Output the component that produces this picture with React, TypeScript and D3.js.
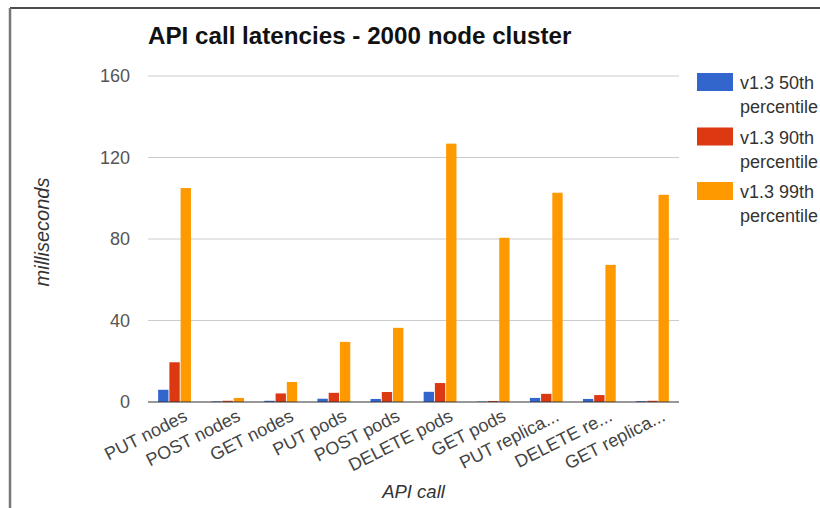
import * as d3 from "d3";

// API call latency percentiles, 2000 node cluster (ms)
const categories = [
  "PUT nodes",
  "POST nodes",
  "GET nodes",
  "PUT pods",
  "POST pods",
  "DELETE pods",
  "GET pods",
  "PUT replica...",
  "DELETE re...",
  "GET replica...",
];
const p50 = [6, 0.3, 0.6, 1.6, 1.5, 5, 0.2, 2, 1.5, 0.4];
const p90 = [19.5, 0.6, 4.2, 4.5, 4.9, 9.3, 0.5, 4, 3.4, 0.6];
const p99 = [105, 2, 9.8, 29.5, 36.4, 126.8, 80.6, 102.7, 67.3, 101.7];
const seriesNames = [
  "v1.3 50th percentile",
  "v1.3 90th percentile",
  "v1.3 99th percentile",
];
const yTicks = [0, 40, 80, 120, 160];

const colors = ["#3366cc", "#dc3912", "#ff9900"];
const font = "Arial, 'Liberation Sans', sans-serif";

const W = 820;
const H = 508;
const left = 148;
const right = 679;
const top = 76;
const bottom = 402;

export default function App() {
  const series = [p50, p90, p99];

  const x = d3.scaleBand<string>().domain(categories).range([left, right]);
  const groupW = x.bandwidth() * 0.618;
  const xInner = d3
    .scaleBand<number>()
    .domain([0, 1, 2])
    .range([0, groupW])
    .paddingInner(0.08);
  const y = d3.scaleLinear().domain([0, 160]).range([bottom, top]);

  return (
    <svg
      width={W}
      height={H}
      style={{ position: "absolute", left: 0, top: 0, background: "#fff" }}
      fontFamily={font}
    >
      <rect x={0} y={0} width={W} height={H} fill="#fff" />
      {/* frame of the screenshot */}
      <line x1={10} x2={W} y1={8} y2={8} stroke="#111" strokeWidth={1.5} />
      <line x1={10} x2={10} y1={8} y2={H} stroke="#777" strokeWidth={2.5} />

      <text x={148} y={44} fontSize={24.2} fontWeight="bold" fill="#111">
        API call latencies - 2000 node cluster
      </text>

      {/* gridlines + y labels */}
      {yTicks.map((t) => (
        <g key={t}>
          {t > 0 && (
            <line
              x1={left}
              x2={right}
              y1={y(t)}
              y2={y(t)}
              stroke="#cccccc"
              strokeWidth={1}
            />
          )}
          <text
            x={130}
            y={y(t) + 6}
            textAnchor="end"
            fontSize={18}
            fill="#555"
          >
            {t}
          </text>
        </g>
      ))}

      {/* bars */}
      {categories.map((c, i) => {
        const gx = x(c)! + (x.bandwidth() - groupW) / 2;
        return (
          <g key={c}>
            {series.map((s, j) => (
              <rect
                key={j}
                x={gx + xInner(j)!}
                y={y(s[i])}
                width={xInner.bandwidth()}
                height={bottom - y(s[i])}
                fill={colors[j]}
              />
            ))}
          </g>
        );
      })}

      <line
        x1={left}
        x2={right}
        y1={bottom}
        y2={bottom}
        stroke="#333"
        strokeWidth={1.2}
      />

      {/* x labels */}
      {categories.map((c) => {
        const cx = x(c)! + x.bandwidth() / 2 + 14;
        const cy = 420;
        return (
          <text
            key={c}
            x={cx}
            y={cy}
            textAnchor="end"
            fontSize={18}
            fill="#444"
            transform={`rotate(-27 ${cx} ${cy})`}
          >
            {c}
          </text>
        );
      })}

      <text
        x={(left + right) / 2}
        y={498}
        textAnchor="middle"
        fontSize={18.5}
        fontStyle="italic"
        fill="#333"
      >
        API call
      </text>
      <text
        transform={`translate(49 ${232}) rotate(-90)`}
        textAnchor="middle"
        fontSize={20}
        fontStyle="italic"
        fill="#333"
      >
        milliseconds
      </text>

      {/* legend */}
      {seriesNames.map((n, j) => {
        const ly = 73 + j * 54.5;
        const [a, b] = [n.slice(0, 9), n.slice(10)];
        return (
          <g key={n}>
            <rect x={697} y={ly} width={36} height={18} fill={colors[j]} />
            <text x={740} y={ly + 16} fontSize={18} fill="#333">
              {a}
            </text>
            <text x={740} y={ly + 40} fontSize={18} fill="#333">
              {b}
            </text>
          </g>
        );
      })}
    </svg>
  );
}
